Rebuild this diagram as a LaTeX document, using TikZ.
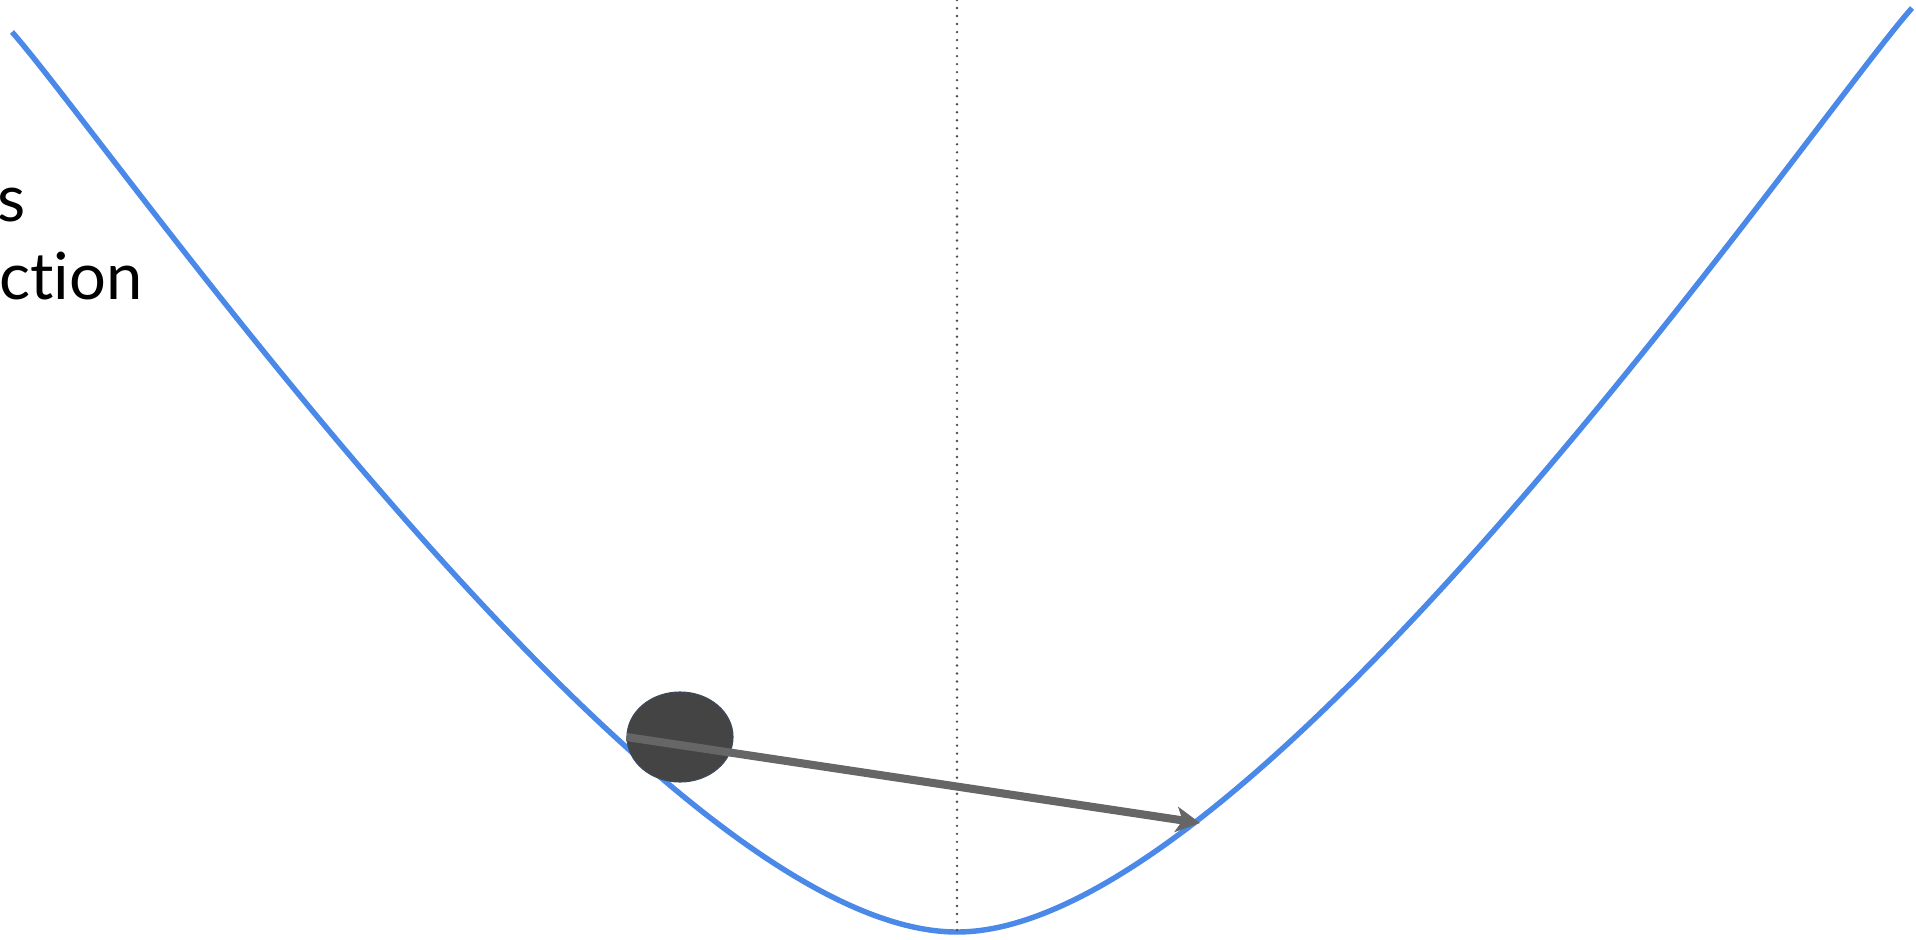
\documentclass[tikz,border=0pt]{standalone}
\usepackage{fontspec}
\setmainfont{Lato}[Ligatures={NoCommon,NoRare,NoDiscretionary}]
\usetikzlibrary{arrows.meta, shapes.geometric}
\definecolor{lossblue}{RGB}{74,137,232}
\definecolor{ballgray}{RGB}{68,68,68}
\definecolor{balledge}{RGB}{62,74,94}
\definecolor{stepgray}{RGB}{102,102,102}
\definecolor{axisgray}{RGB}{70,76,92}

\begin{document}
\begin{tikzpicture}[x=0.01cm, y=-0.01cm, every node/.style={font=\fontsize{18.5}{22}\selectfont, inner sep=0pt}]
  \useasboundingbox (0,0) rectangle (1916,940);
  \draw[lossblue, line width=1.55pt] (12,32) .. controls (112,145) and (657,932) .. (957,932)
    .. controls (1257,932) and (1812,121) .. (1912,8);
  \coordinate (axistop) at (957,0);
  \coordinate (axisbot) at (957,937);
  \draw[axisgray, line width=0.75pt, line cap=round, dash pattern=on 0pt off 2.28pt] (axistop) -- (axisbot);
  \node[anchor=base east] (lossword) at (26,222) {s};
  \node[anchor=base east] (funcword) at (143,300) {ction};
  \node[ellipse, fill=ballgray, draw=balledge, line width=0.3pt, minimum width=1.06cm, minimum height=0.9cm] (ball) at (680,737) {};
  \coordinate (steptip) at (1200,823);
  \draw[stepgray, line width=2.3pt, -{Stealth[length=6.8pt, width=7.2pt, inset=1.8pt]}] (ball.west) -- (steptip);
\end{tikzpicture}
\end{document}
